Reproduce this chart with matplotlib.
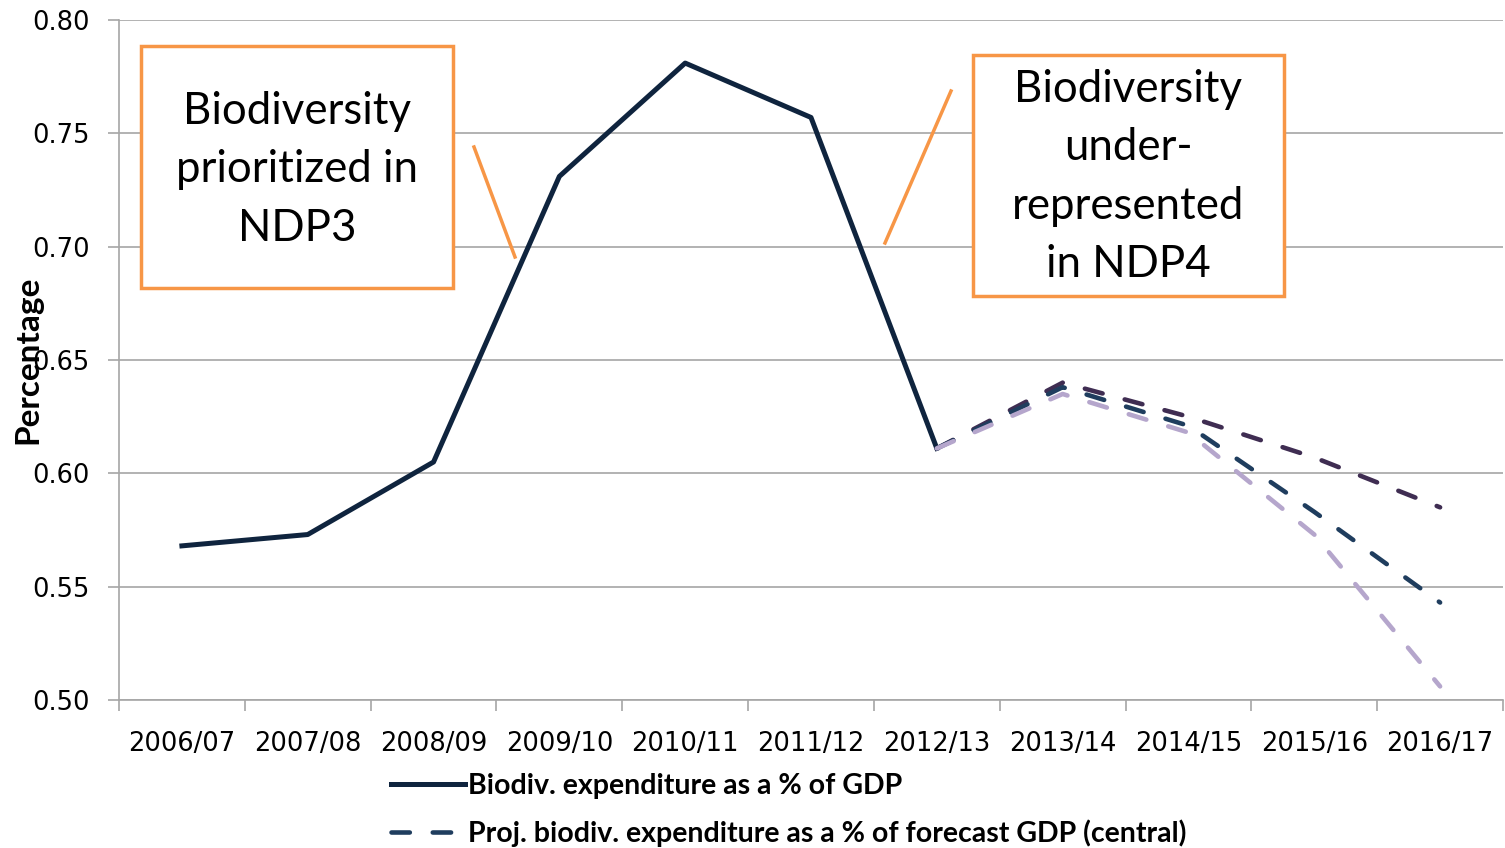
import matplotlib.pyplot as plt
import numpy as np
from matplotlib.lines import Line2D
from matplotlib.patches import Rectangle

# Data
years = ['2006/07', '2007/08', '2008/09', '2009/10', '2010/11', '2011/12',
         '2012/13', '2013/14', '2014/15', '2015/16', '2016/17']
actual = [0.568, 0.573, 0.605, 0.731, 0.781, 0.757, 0.611,
          np.nan, np.nan, np.nan, np.nan]
proj_low = [np.nan] * 6 + [0.611, 0.640, 0.625, 0.607, 0.585]
proj_central = [np.nan] * 6 + [0.611, 0.638, 0.621, 0.583, 0.543]
proj_high = [np.nan] * 6 + [0.611, 0.635, 0.618, 0.573, 0.506]

W, H = 1505, 848
fig = plt.figure(figsize=(W / 100, H / 100), dpi=100)
ax = fig.add_axes([119 / W, 1 - 700 / H, (1503 - 119) / W, 680 / H])

x = np.arange(len(years))
grey = '#a6a6a6'

ax.plot(x, actual, color='#0f243e', lw=3.6, solid_joinstyle='round', zorder=3,
        label='Biodiv. expenditure as a % of GDP')
ax.plot(x, proj_low, color='#3f2d52', lw=3.3, dashes=(4, 5), dash_capstyle='round', zorder=4)
ax.plot(x, proj_central, color='#1f3d5e', lw=3.3, dashes=(4, 5), dash_capstyle='round', zorder=5,
        label='Proj. biodiv. expenditure as a % of forecast GDP (central)')
ax.plot(x, proj_high, color='#b5a6cc', lw=3.3, dashes=(4, 5), dash_capstyle='round', zorder=6)

ax.set_xlim(-0.5, len(years) - 0.5)
ax.set_ylim(0.50, 0.80)
ax.set_yticks(np.arange(0.50, 0.801, 0.05))
ax.set_yticklabels([f'{v:.2f}' for v in np.arange(0.50, 0.801, 0.05)])
ax.set_xticks(x)
ax.set_xticklabels(years)
ax.set_xticks(np.arange(-0.5, len(years), 1), minor=True)
ax.tick_params(axis='x', which='major', length=0, pad=22, labelsize=18.5)
ax.tick_params(axis='x', which='minor', length=8, color=grey, width=1.2)
ax.tick_params(axis='y', length=8, color=grey, width=1.2, labelsize=18.5, pad=13)
ax.grid(axis='y', color=grey, lw=1.2)
ax.set_axisbelow(True)
for s in ['top', 'right']:
    ax.spines[s].set_visible(False)
for s in ['left', 'bottom']:
    ax.spines[s].set_color(grey)
    ax.spines[s].set_linewidth(1.2)

fig.text(28 / W, 1 - 360 / H, 'Percentage', rotation=90, ha='center', va='center',
         fontsize=24, fontweight='bold', family='Lato')

# Annotation boxes (figure pixel coordinates)
orange = '#f79646'
def px_box(x0, y0, x1, y1):
    fig.patches.append(Rectangle((x0 / W, 1 - y1 / H), (x1 - x0) / W, (y1 - y0) / H,
                                 transform=fig.transFigure, fill=True, facecolor='white',
                                 edgecolor=orange, lw=2.5, zorder=5))

def px_line(x0, y0, x1, y1):
    fig.lines.append(Line2D([x0 / W, x1 / W], [1 - y0 / H, 1 - y1 / H],
                            transform=fig.transFigure, color=orange, lw=2.5))

px_box(141, 46, 453, 288)
fig.text(297 / W, 1 - 170 / H, 'Biodiversity\nprioritized in\nNDP3', ha='center', va='center',
         fontsize=31.5, linespacing=1.53, family='Lato', zorder=6)
px_box(973, 55, 1284, 296)
fig.text(1128 / W, 1 - 177 / H, 'Biodiversity\nunder-\nrepresented\nin NDP4', ha='center',
         va='center', fontsize=31.5, linespacing=1.53, family='Lato', zorder=6)
px_line(474, 147, 515, 257)
px_line(951, 91, 885, 243)

leg = fig.legend(loc='upper left', bbox_to_anchor=(371 / W, 1 - 753 / H), frameon=False,
                 handlelength=2.6, handletextpad=0.1, labelspacing=0.72, borderpad=0.2,
                 prop={'family': 'Lato', 'weight': 'bold', 'size': 20.5})

fig.savefig('out.png', dpi=100)
